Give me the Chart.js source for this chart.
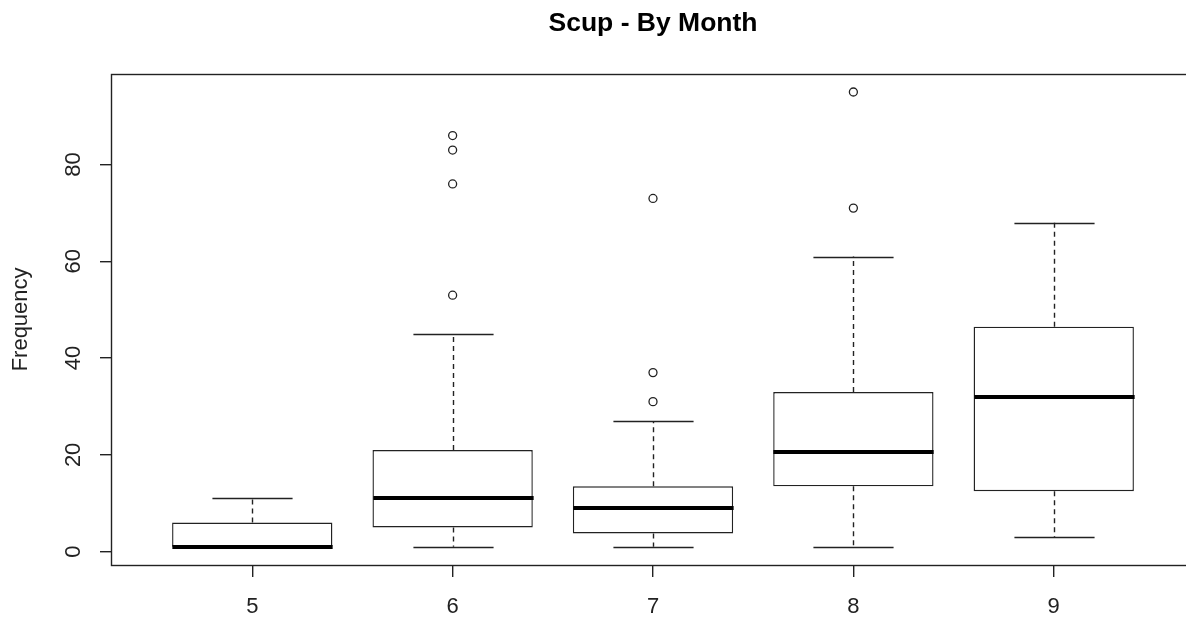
<!DOCTYPE html>
<html>
<head>
<meta charset="utf-8">
<script src="https://cdn.jsdelivr.net/npm/chart.js@4/dist/chart.umd.min.js"></script>
<style>
  html, body { margin: 0; padding: 0; background: #fff; overflow: hidden; }
  #wrap { width: 1200px; height: 618px; position: relative; }
</style>
</head>
<body>
<div id="wrap"><canvas id="c" width="1200" height="618"></canvas></div>
<script>
// Summary statistics per month (box-and-whisker values)
const chartTitle = 'Scup - By Month';
const yAxisLabel = 'Frequency';
const months = ['5', '6', '7', '8', '9'];
const whiskerLow = [1, 1, 1, 1, 3];
const quartile1 = [1, 5, 3.75, 13.5, 12.5];
const medians = [1, 11, 9, 20.5, 32];
const quartile3 = [6, 21, 13.5, 33, 46.5];
const whiskerHigh = [11, 45, 27, 61, 68];
const outliers = [[], [53, 76, 83, 86], [31, 37, 73], [71, 95], []];
const yTicks = [0, 20, 40, 60, 80];

const INK = '#222222';
const FONT = '"Liberation Sans", Arial, sans-serif';
const LW = 1.4;

// Whiskers, caps, medians, frame and rotated y labels
const boxplotExtras = {
  id: 'boxplotExtras',
  afterDatasetsDraw(chart) {
    const { ctx } = chart;
    const x = chart.scales.x, y = chart.scales.y;
    const halfBox = (x.getPixelForValue(1.4) - x.getPixelForValue(1));
    const halfCap = (x.getPixelForValue(1.2) - x.getPixelForValue(1));
    ctx.save();
    ctx.strokeStyle = INK;
    months.forEach((m, i) => {
      const cx = Math.round(x.getPixelForValue(i + 1)) + 0.5;
      const yLo = y.getPixelForValue(whiskerLow[i]);
      const yQ1 = y.getPixelForValue(quartile1[i]);
      const yQ3 = y.getPixelForValue(quartile3[i]);
      const yHi = y.getPixelForValue(whiskerHigh[i]);
      // dashed whiskers
      ctx.lineWidth = LW;
      ctx.setLineDash([5, 4]);
      ctx.beginPath();
      ctx.moveTo(cx, yQ3); ctx.lineTo(cx, yHi);
      ctx.moveTo(cx, yQ1); ctx.lineTo(cx, yLo);
      ctx.stroke();
      // caps
      ctx.setLineDash([]);
      ctx.beginPath();
      const hi = Math.round(yHi) + 0.5, lo = Math.round(yLo) + 0.5;
      ctx.moveTo(cx - halfCap, hi); ctx.lineTo(cx + halfCap, hi);
      ctx.moveTo(cx - halfCap, lo); ctx.lineTo(cx + halfCap, lo);
      ctx.stroke();
      // median
      ctx.lineWidth = 4;
      ctx.lineCap = 'butt';
      ctx.strokeStyle = '#000';
      ctx.beginPath();
      const ym = Math.round(y.getPixelForValue(medians[i]));
      ctx.moveTo(cx - halfBox, ym); ctx.lineTo(cx + halfBox, ym);
      ctx.stroke();
      ctx.strokeStyle = INK;
    });
    ctx.restore();
  },
  afterDraw(chart) {
    const { ctx, chartArea: a } = chart;
    const y = chart.scales.y;
    ctx.save();
    ctx.strokeStyle = INK;
    ctx.lineWidth = LW;
    const l = Math.round(a.left) - 0.5, t = Math.round(a.top) + 0.5;
    const r = Math.round(a.right) + 0.5, b = Math.round(a.bottom) + 0.5;
    ctx.strokeRect(l, t, r - l, b - t);
    // y tick labels, parallel to the axis
    ctx.fillStyle = INK;
    ctx.font = '22px ' + FONT;
    ctx.textAlign = 'center';
    ctx.textBaseline = 'alphabetic';
    yTicks.forEach(v => {
      ctx.save();
      ctx.translate(80, y.getPixelForValue(v));
      ctx.rotate(-Math.PI / 2);
      ctx.fillText(String(v), 0, 0);
      ctx.restore();
    });
    ctx.restore();
  }
};

new Chart(document.getElementById('c'), {
  type: 'bar',
  data: {
    datasets: [
      {
        type: 'bar',
        label: 'IQR',
        data: months.map((m, i) => ({ x: i + 1, y: [quartile1[i], quartile3[i]] })),
        backgroundColor: '#ffffff',
        borderColor: INK,
        borderWidth: LW,
        borderSkipped: false,
        barPercentage: 0.8,
        categoryPercentage: 1.0
      },
      {
        type: 'scatter',
        label: 'Outliers',
        data: outliers.flatMap((vals, i) => vals.map(v => ({ x: i + 1, y: v }))),
        pointRadius: 4,
        pointBorderWidth: 1.3,
        pointBorderColor: INK,
        pointBackgroundColor: 'rgba(0,0,0,0)',
        showLine: false
      }
    ]
  },
  options: {
    responsive: false,
    animation: false,
    devicePixelRatio: 1,
    layout: { padding: { left: 0, right: 6, top: 0, bottom: 0 } },
    plugins: {
      legend: { display: false },
      tooltip: { enabled: false },
      title: {
        display: true,
        text: chartTitle,
        fullSize: false,
        color: '#000',
        font: { family: FONT, size: 26.5, weight: 'bold' },
        padding: { top: 8, bottom: 34 }
      }
    },
    scales: {
      x: {
        type: 'linear',
        min: 0.3,
        max: 5.7,
        offset: false,
        afterBuildTicks: s => { s.ticks = months.map((m, i) => ({ value: i + 1 })); },
        afterFit: s => { s.height = 53; },
        ticks: {
          callback: (v, i) => months[i],
          color: INK,
          font: { family: FONT, size: 22 },
          padding: 17,
          maxRotation: 0,
          autoSkip: false
        },
        grid: { drawOnChartArea: false, drawTicks: true, tickLength: 12, lineWidth: LW, color: INK, offset: false },
        border: { display: false }
      },
      y: {
        type: 'linear',
        min: -2.76,
        max: 98.76,
        afterBuildTicks: s => { s.ticks = yTicks.map(v => ({ value: v })); },
        afterFit: s => { s.width = 112; },
        ticks: { display: false },
        grid: { drawOnChartArea: false, drawTicks: true, tickLength: 12, lineWidth: LW, color: INK },
        border: { display: false },
        title: {
          display: true,
          text: yAxisLabel,
          color: INK,
          font: { family: FONT, size: 22 },
          padding: { top: 8, bottom: 0 }
        }
      }
    }
  },
  plugins: [boxplotExtras]
});
</script>
</body>
</html>
